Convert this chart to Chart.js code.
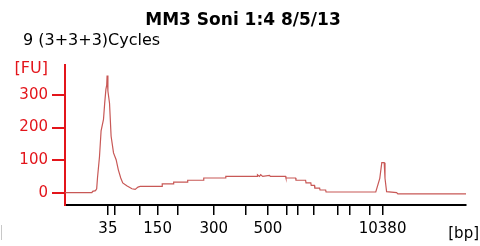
<!DOCTYPE html>
<html>
<head>
<meta charset="utf-8">
<script src="https://cdn.jsdelivr.net/npm/chart.js@4.4.1/dist/chart.umd.min.js"></script>
<style>
  html, body { margin: 0; padding: 0; background: #fff; }
  #wrap { width: 480px; height: 246px; }
</style>
</head>
<body>
<div id="wrap"><canvas id="chart"></canvas></div>
<script>
// ladder marker positions (migration time, s) and their sizes in bp
const ladderTimes = [30.7, 32.5, 38.6, 43.1, 48.0, 57.1, 65.0, 70.6, 75.2, 78.1, 82.1, 88.1, 91.1, 96.1, 99.2];
const ladderSizes = [35, 50, 100, 150, 200, 300, 400, 500, 700, 1000, 1500, 2000, 3000, 7000, 10380];
const shownSizes = [35, 150, 300, 500, 10380];
const yTicks = [0, 100, 200, 300];

// trace: time (s) and fluorescence (FU)
const traceTime = [
  20, 26.7, 26.9, 27.6, 27.9, 28.1, 28.6, 29.0, 29.6, 29.9, 30.2, 30.4, 30.5, 30.7, 31.1, 31.5,
  32.1, 32.75, 33.3, 33.9, 34.4, 35.4, 36.7, 37.5, 38.2, 38.75, 44.2, 44.25, 47.0, 47.1, 50.5, 50.6,
  54.5, 54.6, 60.0, 60.1, 67.9, 68.0, 68.5, 68.8, 69.3, 71.0, 71.2, 75.0, 75.1, 77.5, 77.6, 80.0,
  80.1, 81.3, 81.4, 82.2, 82.3, 83.5, 83.6, 85.0, 85.1, 97.5, 98.5, 99.0, 99.6, 99.8, 100.2, 102.7,
  103.0, 120.0
];
const traceFU = [
  0, 0, 4, 6, 12, 45, 110, 190, 225, 275, 317, 330, 360, 312, 275, 173,
  122, 101, 70, 45, 30, 21, 12, 10, 17, 19, 19, 27, 27, 32, 32, 38,
  38, 45, 45, 50, 50, 55, 50, 55, 50, 53, 50, 50, 45, 45, 38, 38,
  30, 30, 22, 22, 14, 14, 8, 8, 2, 2, 44, 92, 92, 44, 3, 0,
  -4, -4
];

const RED = '#e3151b';
const FONT = 'DejaVu Sans';

const labelsPlugin = {
  id: 'labels',
  afterDraw(chart) {
    const ctx = chart.ctx;
    ctx.save();
    ctx.textBaseline = 'alphabetic';
    ctx.fillStyle = '#000';
    ctx.font = 'bold 17px "' + FONT + '"';
    ctx.textAlign = 'center';
    ctx.fillText('MM3 Soni 1:4 8/5/13', 243, 25);
    ctx.font = '16px "' + FONT + '"';
    ctx.textAlign = 'left';
    ctx.fillText('9 (3+3+3)Cycles', 23, 45);
    ctx.fillStyle = RED;
    ctx.textAlign = 'right';
    ctx.fillText('[FU]', 48, 73);
    ctx.font = '15px "' + FONT + '"';
    ctx.fillStyle = '#000';
    ctx.fillText('[bp]', 479, 238);
    ctx.strokeStyle = '#c8c8c8';
    ctx.lineWidth = 1;
    ctx.beginPath();
    ctx.moveTo(1.5, 225);
    ctx.lineTo(1.5, 240);
    ctx.stroke();
    ctx.restore();
  }
};

new Chart(document.getElementById('chart'), {
  type: 'line',
  data: {
    datasets: [{
      data: traceTime.map((t, i) => ({ x: t, y: traceFU[i] })),
      borderColor: 'rgb(200, 88, 86)',
      borderWidth: 1.2,
      pointRadius: 0,
      tension: 0,
      fill: false
    }]
  },
  options: {
    responsive: true,
    maintainAspectRatio: false,
    animation: false,
    layout: { padding: { top: 65, left: 0, right: 14, bottom: 0 } },
    plugins: { legend: { display: false }, tooltip: { enabled: false } },
    scales: {
      x: {
        type: 'linear',
        min: 20,
        max: 120,
        afterFit(scale) { scale.height = 41; },
        afterBuildTicks(scale) { scale.ticks = ladderTimes.map(v => ({ value: v })); },
        border: { color: '#000', width: 2 },
        grid: { drawOnChartArea: false, tickLength: 10, color: '#000', lineWidth: 1.5 },
        ticks: {
          autoSkip: false,
          maxRotation: 0,
          padding: 5,
          color: '#000',
          font: { family: FONT, size: 15 },
          callback(value, index) {
            const size = ladderSizes[index];
            return shownSizes.includes(size) ? String(size) : '';
          }
        }
      },
      y: {
        min: -38,
        max: 392,
        afterFit(scale) { scale.width = 65; },
        afterBuildTicks(scale) { scale.ticks = yTicks.map(v => ({ value: v })); },
        border: { color: RED, width: 2 },
        grid: { drawOnChartArea: false, tickLength: 13, color: RED, lineWidth: 2 },
        ticks: {
          padding: 4,
          color: RED,
          font: { family: FONT, size: 15 }
        }
      }
    }
  },
  plugins: [labelsPlugin]
});
</script>
</body>
</html>
